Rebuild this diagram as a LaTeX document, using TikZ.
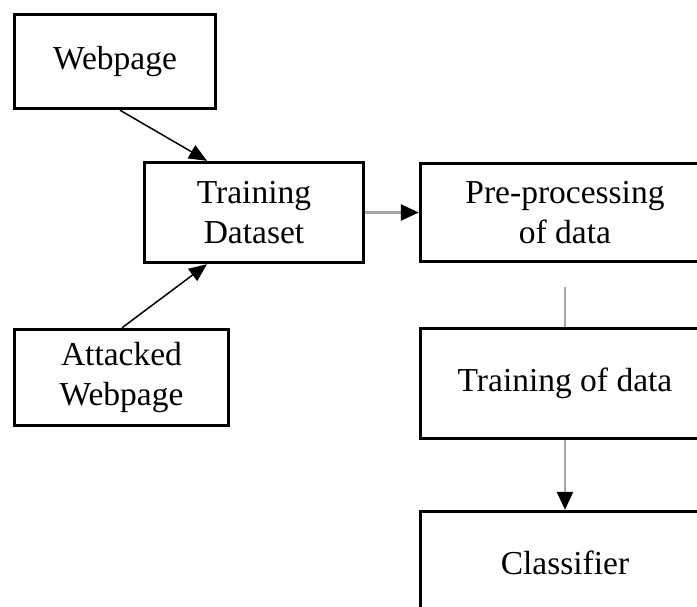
\documentclass[tikz,border=0pt]{standalone}
\usepackage{fontspec}
\setmainfont{Liberation Serif}
\usetikzlibrary{arrows.meta}
\definecolor{lgrey}{RGB}{166,166,166}
\tikzset{
  box/.style={draw=black, line width=3.4pt, fill=white, inner sep=0pt, align=center,
    font=\fontsize{33.5}{40}\selectfont},
  thinarrow/.style={line width=1.5pt, black, -{Triangle[length=18pt,width=15pt]}},
  greyarrow/.style={line width=2.5pt, lgrey, -{Triangle[length=18pt,width=16pt,color=black]}},
  greyline/.style={line width=2.5pt, lgrey}
}
\begin{document}
\begin{tikzpicture}[x=1pt,y=-1pt]
\useasboundingbox (0,0) rectangle (697,606);
\clip (0,0) rectangle (697,606);
\node[box, minimum width=201pt, minimum height=94pt] (w) at (115,61.5) {Webpage};
\node[box, minimum width=219pt, minimum height=100pt] (td) at (254,212.5) {Training\\Dataset};
\node[box, minimum width=214pt, minimum height=96pt] (aw) at (121.5,377.5) {Attacked\\Webpage};
\node[box, minimum width=289pt, minimum height=98pt] (pp) at (565,212.5) {Pre-processing\\of data};
\node[box, minimum width=289pt, minimum height=110pt] (tr) at (565,383.5) {Training of data};
\node[box, minimum width=289pt, minimum height=103pt] (cl) at (565,563) {Classifier};
\coordinate (ppgap) at ([yshift=-24pt]pp.south);
\draw[thinarrow] ([xshift=5pt]w.south) -- ([xshift=-47pt]td.north);
\draw[thinarrow] ([xshift=0.5pt]aw.north) -- ([xshift=-47pt]td.south);
\draw[greyarrow] (td.east) -- (pp.west);
\draw[greyline] (ppgap) -- (tr.north);
\draw[greyarrow] (tr.south) -- (cl.north);
\end{tikzpicture}
\end{document}
